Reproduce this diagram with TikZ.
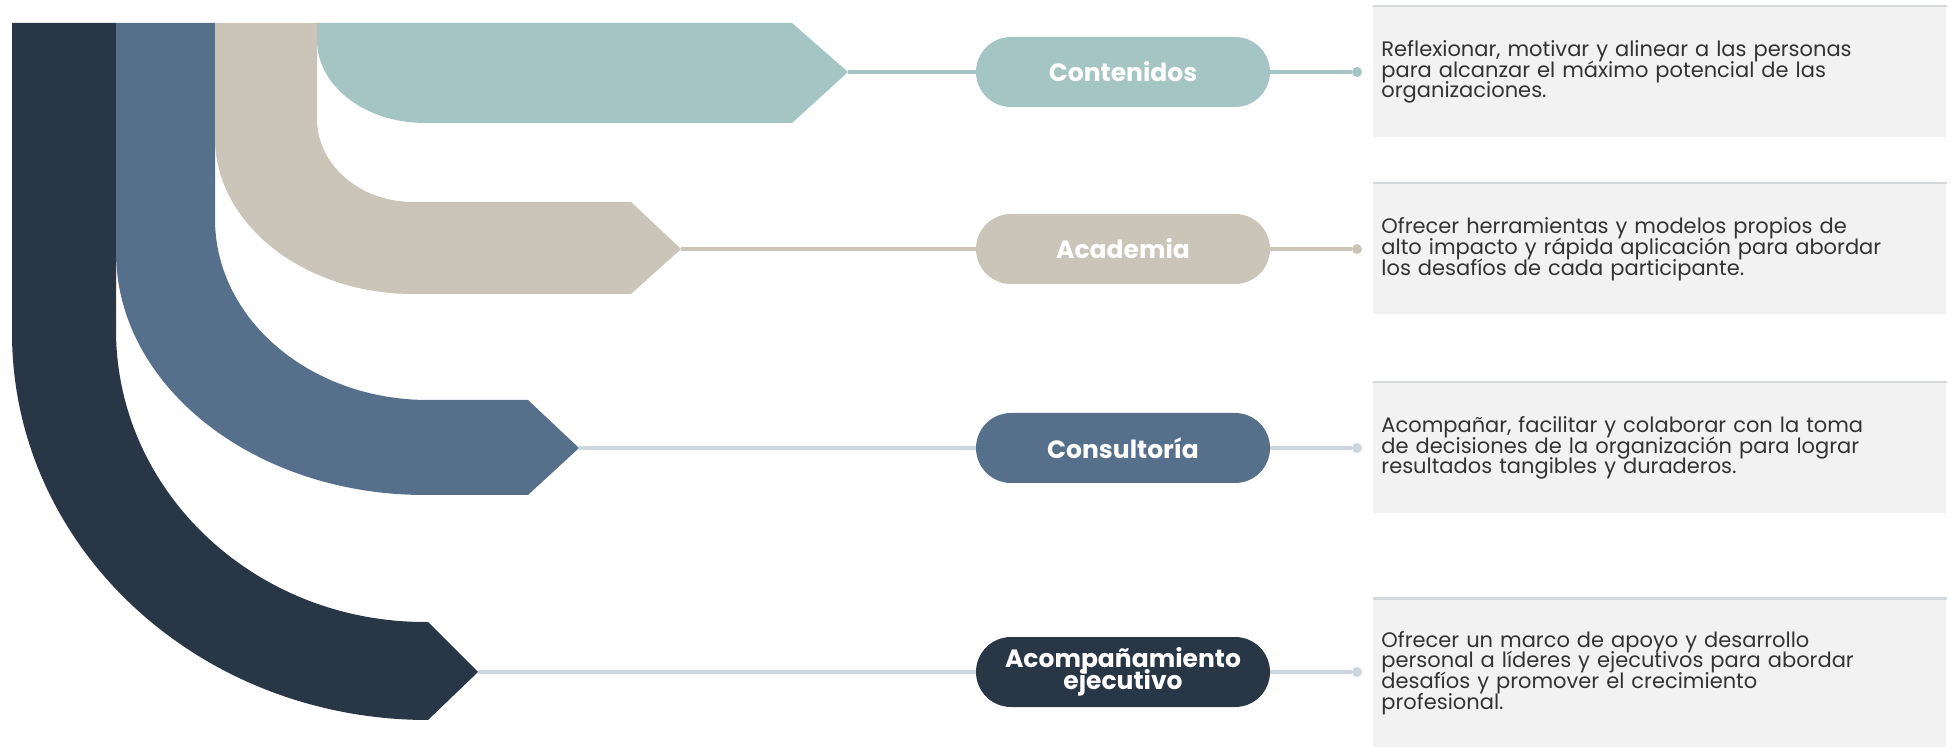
\documentclass[tikz,border=0pt]{standalone}
\usepackage{fontspec}
\setmainfont{Poppins}
\usetikzlibrary{positioning}

\definecolor{navy}{HTML}{283645}
\definecolor{steel}{HTML}{56708C}
\definecolor{sand}{HTML}{CBC5B9}
\definecolor{sage}{HTML}{A5C4C4}
\definecolor{mist}{HTML}{CDD6DE}
\definecolor{paper}{HTML}{F2F2F2}
\definecolor{rim}{HTML}{D5D8DB}
\definecolor{ink}{HTML}{333333}
\newcommand\tightlines{\lineskiplimit=-20pt\relax}

\begin{document}
\begin{tikzpicture}[x=0.5pt,y=-0.5pt,
    pill/.style={rectangle,rounded corners=17.5pt,minimum width=147pt,minimum height=35pt,
      inner sep=0pt,text=white,align=center,
      font=\fontsize{12.5}{10.8}\selectfont\bfseries\tightlines},
    link/.style={line width=2.2pt},
    dot/.style={circle,minimum size=5pt,inner sep=0pt},
    desc/.style={anchor=west,fill=paper,minimum width=286.5pt,minimum height=65.5pt,
      text width=278.5pt,inner xsep=4pt,align=left,text=ink,
      font=\fontsize{10.5}{10.4}\selectfont\tightlines},
    edge/.style={rim,line width=1.2pt}]
      \useasboundingbox (0,0) rectangle (1957,747);

      % bands
      \fill[navy] (12,23) -- (116,23) -- (116,330) .. controls (116,491) and (254,622) .. (425,622)
        -- (428,622) -- (478,672) -- (428,720) .. controls (198,720) and (12,547) .. (12,333) -- cycle;
      \fill[steel] (116,23) -- (215,23) -- (215,219) .. controls (215,319) and (310,400) .. (428,400)
        -- (528,400) -- (579,448) -- (528,495) -- (425,495) .. controls (254,495) and (116,386) .. (116,252) -- cycle;
      \fill[sand] (215,23) -- (317,23) -- (317,119) .. controls (317,165) and (360,202) .. (413,202)
        -- (631,202) -- (681,249) -- (631,294) -- (413,294) .. controls (304,294) and (215,224) .. (215,138) -- cycle;
      \fill[sage] (317,23) -- (792,23) -- (848,72) -- (792,123) -- (425,123)
        .. controls (365,123) and (317,86) .. (317,40) -- cycle;

      \coordinate (tip1) at (848,72);
      \coordinate (tip2) at (681,249);
      \coordinate (tip3) at (579,448);
      \coordinate (tip4) at (478,672);

      % labels
      \node[pill,fill=sage] (contenidos) at (1123,72) {Contenidos};
      \node[pill,fill=sand] (academia) at (1123,249) {Academia};
      \node[pill,fill=steel] (consultoria) at (1123,448) {Consultoría};
      \node[pill,fill=navy] (acompanamiento) at (1123,672) {Acompañamiento\\ejecutivo};

      \node[dot,fill=sage] (dot1) at (1357,72) {};
      \node[dot,fill=sand] (dot2) at (1357,249) {};
      \node[dot,fill=mist] (dot3) at (1357,448) {};
      \node[dot,fill=mist] (dot4) at (1357,672) {};

      \path[link]
      (tip1) edge [sage] (contenidos.west)
      (contenidos.east) edge [sage] (dot1)

      (tip2) edge [sand] (academia.west)
      (academia.east) edge [sand] (dot2)

      (tip3) edge [mist] (consultoria.west)
      (consultoria.east) edge [mist] (dot3)

      (tip4) edge [mist] (acompanamiento.west)
      (acompanamiento.east) edge [mist] (dot4)
      ;

      % descriptions
      \node[desc] (text1) at (1373,72) {Reflexionar, motivar y alinear a las personas\\para alcanzar el máximo potencial de las\\organizaciones.};
      \node[desc] (text2) at (1373,249) {Ofrecer herramientas y modelos propios de\\alto impacto y rápida aplicación para abordar\\los desafíos de cada participante.};
      \node[desc] (text3) at (1373,448) {Acompañar, facilitar y colaborar con la toma\\de decisiones de la organización para lograr\\resultados tangibles y duraderos.};
      \node[desc,minimum height=74pt] (text4) at (1373,673) {Ofrecer un marco de apoyo y desarrollo\\personal a líderes y ejecutivos para abordar\\desafíos y promover el crecimiento\\profesional.};

      \foreach \t in {text1,text2,text3,text4}
        \draw[edge] (\t.north west) -- (\t.north east);
    \end{tikzpicture}
\end{document}
